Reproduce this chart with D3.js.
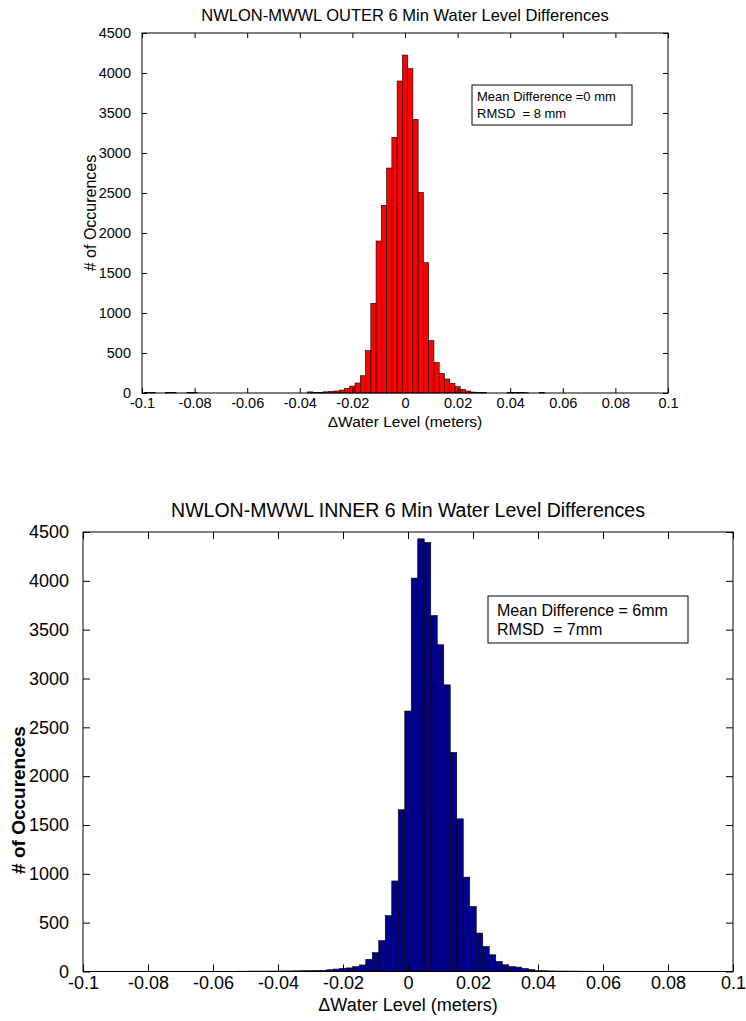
<!DOCTYPE html>
<html><head><meta charset="utf-8">
<script src="https://cdn.jsdelivr.net/npm/d3@7"></script>
<style>
body{margin:0;background:#fff;}
svg{display:block;}
text{font-family:"Liberation Sans",Arial,Helvetica,sans-serif;fill:#000;white-space:pre;}
</style>
</head><body>
<svg id="c" width="746" height="1021"></svg>
<script>
// ---- data ----
const binWidth = 0.002;
const outerCenters = [-0.098,-0.096,-0.090,-0.088,-0.082,-0.080,-0.036,-0.034,-0.032,-0.030,-0.028,-0.026,-0.024,-0.022,-0.020,-0.018,-0.016,-0.014,-0.012,-0.010,-0.008,-0.006,-0.004,-0.002,0.000,0.002,0.004,0.006,0.008,0.010,0.012,0.014,0.016,0.018,0.020,0.022,0.024,0.026,0.028,0.030,0.040,0.042,0.044,0.046,0.052];
const outerCounts  = [8,6,5,6,6,5,14,6,8,15,20,25,37,58,87,125,216,529,1121,1900,2346,2812,3196,3900,4225,4054,3421,2508,1629,654,379,245,175,121,79,46,25,12,6,4,5,4,5,3,8];

const innerCenters = [-0.052,-0.050,-0.048,-0.046,-0.044,-0.042,-0.040,-0.038,-0.036,-0.034,-0.032,-0.030,-0.028,-0.026,-0.024,-0.022,-0.020,-0.018,-0.016,-0.014,-0.012,-0.010,-0.008,-0.006,-0.004,-0.002,0.000,0.002,0.004,0.006,0.008,0.010,0.012,0.014,0.016,0.018,0.020,0.022,0.024,0.026,0.028,0.030,0.032,0.034,0.036,0.038,0.040,0.042,0.044,0.046,0.048,0.050,0.052,0.054,0.056,0.058];
const innerCounts  = [3,3,4,4,4,5,5,6,6,7,8,9,10,12,18,25,32,37,50,67,125,193,316,572,927,1656,2667,4028,4430,4393,3645,3345,2935,2243,1563,966,666,393,256,171,102,69,51,45,30,20,10,8,6,5,5,4,4,3,3,2];

const xTicks = [-0.1,-0.08,-0.06,-0.04,-0.02,0,0.02,0.04,0.06,0.08,0.1];
const xTickLabels = ["-0.1","-0.08","-0.06","-0.04","-0.02","0","0.02","0.04","0.06","0.08","0.1"];
const yTicks = [0,500,1000,1500,2000,2500,3000,3500,4000,4500];
const yTickLabels = ["0","500","1000","1500","2000","2500","3000","3500","4000","4500"];

const titles = ["NWLON-MWWL OUTER 6 Min Water Level Differences","NWLON-MWWL INNER 6 Min Water Level Differences"];
const xLabel = "\u0394Water Level (meters)";
const yLabel = "# of Occurences";
const legendOuter = ["Mean Difference =0 mm","RMSD  = 8 mm"];
const legendInner = ["Mean Difference = 6mm","RMSD  = 7mm"];

// ---- drawing ----
const svg = d3.select("#c");

function drawPanel(o){
  const g = svg.append("g");
  const x = d3.scaleLinear().domain([-0.1,0.1]).range([o.left,o.right]);
  const y = d3.scaleLinear().domain([0,4500]).range([o.bottom,o.top]);

  // bars
  g.append("g").selectAll("rect").data(o.centers.map((c,i)=>({c,v:o.counts[i]})))
    .join("rect")
    .attr("x",d=>x(d.c-binWidth/2))
    .attr("width",d=>x(d.c+binWidth/2)-x(d.c-binWidth/2))
    .attr("y",d=>y(d.v))
    .attr("height",d=>y(0)-y(d.v))
    .attr("fill",o.color)
    .attr("stroke","#000")
    .attr("stroke-width",0.6);

  const fmtX = (d,i)=>xTickLabels[i];
  const fmtY = (d,i)=>yTickLabels[i];
  const ax = [];
  ax.push(g.append("g").attr("transform",`translate(0,${o.bottom})`)
    .call(d3.axisBottom(x).tickValues(xTicks).tickFormat(fmtX).tickSize(-o.tick).tickPadding(o.xpad)));
  ax.push(g.append("g").attr("transform",`translate(0,${o.top})`)
    .call(d3.axisTop(x).tickValues(xTicks).tickFormat("").tickSize(-o.tick)));
  ax.push(g.append("g").attr("transform",`translate(${o.left},0)`)
    .call(d3.axisLeft(y).tickValues(yTicks).tickFormat(fmtY).tickSize(-o.tick).tickPadding(o.ypad)));
  ax.push(g.append("g").attr("transform",`translate(${o.right},0)`)
    .call(d3.axisRight(y).tickValues(yTicks).tickFormat("").tickSize(-o.tick)));
  ax.forEach(a=>{
    a.select(".domain").remove();
    a.selectAll("text").style("font-size",o.tickFont+"px").attr("fill","#000")
      .style("font-family",'"Liberation Sans",Arial,sans-serif');
    a.selectAll("line").attr("stroke","#000");
  });

  g.append("rect").attr("x",o.left).attr("y",o.top)
    .attr("width",o.right-o.left).attr("height",o.bottom-o.top)
    .attr("fill","none").attr("stroke","#000").attr("stroke-width",1);

  // title & labels
  g.append("text").attr("x",(o.left+o.right)/2).attr("y",o.titleY)
    .attr("text-anchor","middle").style("font-size",o.titleFont+"px").text(o.title);
  g.append("text").attr("x",(o.left+o.right)/2).attr("y",o.xlabY)
    .attr("text-anchor","middle").style("font-size",o.labFont+"px").text(xLabel);
  g.append("text").attr("transform",`translate(${o.ylabX},${o.ylabCY}) rotate(-90)`)
    .attr("text-anchor","middle").style("font-size",o.ylabFont+"px")
    .style("font-weight",o.ylabWeight).text(yLabel);

  // legend box
  g.append("rect").attr("x",o.leg.x).attr("y",o.leg.y).attr("width",o.leg.w).attr("height",o.leg.h)
    .attr("fill","#fff").attr("stroke","#000").attr("stroke-width",1);
  o.legText.forEach((t,i)=>{
    g.append("text").attr("x",o.leg.x+o.leg.tx).attr("y",o.leg.y+o.leg.ty+i*o.leg.lh)
      .style("font-size",o.leg.font+"px").text(t);
  });
}

drawPanel({
  left:142, right:668, top:33, bottom:393, tick:5, xpad:5, ypad:11,
  centers:outerCenters, counts:outerCounts, color:"#ff0000",
  tickFont:14.5, title:titles[0], titleY:21, titleFont:16.5,
  xlabY:427, labFont:15.5, ylabX:96, ylabCY:213, ylabFont:16, ylabWeight:"normal",
  leg:{x:472,y:85,w:160,h:40,tx:5,ty:16,lh:17,font:13},
  legText:legendOuter
});

drawPanel({
  left:83, right:733, top:532, bottom:971.5, tick:7, xpad:5, ypad:14,
  centers:innerCenters, counts:innerCounts, color:"#00008b",
  tickFont:18, title:titles[1], titleY:517, titleFont:19.5,
  xlabY:1011, labFont:18, ylabX:25, ylabCY:800, ylabFont:19, ylabWeight:"bold",
  leg:{x:488,y:596,w:200,h:47,tx:9,ty:20,lh:19,font:16},
  legText:legendInner
});
</script>
</body></html>
